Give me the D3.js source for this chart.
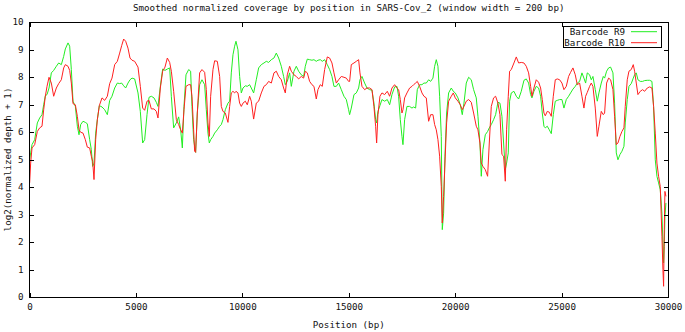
<!DOCTYPE html>
<html><head><meta charset="utf-8">
<script src="https://cdn.jsdelivr.net/npm/d3@7/dist/d3.min.js"></script>
<style>
html,body{margin:0;padding:0;background:#fff;}
text{font-family:"DejaVu Sans Mono",monospace;font-size:9.2px;fill:#111;}
</style></head>
<body>
<svg id="chart" width="685" height="332"></svg>
<script>
const title = "Smoothed normalized coverage by position in SARS-Cov_2 (window width = 200 bp)";
const xLabel = "Position (bp)";
const yLabel = "log2(normalized depth + 1)";
const seriesNames = ["Barcode R9", "Barcode R10"];
const xTicks = [0, 5000, 10000, 15000, 20000, 25000, 30000];
const yTicks = [0, 1, 2, 3, 4, 5, 6, 7, 8, 9, 10];

const positions = [
8,55,118,243,368,478,588,666,744,823,917,1026,1136,1261,1371,1496,1606,1684,1809,1888,
1966,2044,2154,2248,2326,2404,2514,2624,2717,2827,2905,2968,3031,3109,3187,3281,3407,3532,3657,3767,
3876,4002,4127,4237,4330,4424,4518,4628,4722,4816,4941,5098,5207,5317,5411,5521,5615,5724,5849,5959,
6037,6147,6257,6366,6476,6586,6664,6773,6899,7008,7102,7181,7259,7353,7478,
7571,7634,7712,7759,7806,7884,7994,8104,8229,8307,8386,8448,8511,8621,8699,8824,8934,9012,9090,9200,
9325,9404,9482,9560,9638,9701,9795,9873,9952,10030,10140,10233,10343,10421,10531,10656,10766,10891,11016,11126,
11236,11361,11486,11596,11706,11831,11940,12019,12113,12222,12301,12426,12536,12645,12770,12880,12958,13052,13162,13271,
13365,13475,13553,13663,13757,13867,13992,14102,14211,14305,14415,14524,14650,14775,14885,14994,
15041,15120,15245,15355,15464,15527,15621,15746,15856,15981,16091,16184,16263,16310,16372,16466,16560,16686,16811,16921,
17030,17155,17265,17343,17422,17500,17547,17625,17735,17860,17970,18048,18142,18220,18330,18440,18533,18643,18753,18847,
18956,19035,19113,19191,19270,19348,19395,19457,19520,19598,19692,19818,19912,20006,20131,20240,20334,20413,20522,20632,
20757,20867,20992,21070,21164,21227,21305,21415,21525,21603,21697,21806,21900,22010,22104,22198,22276,22355,22417,22495,
22558,22637,22762,22872,22981,23106,23232,23341,23451,23545,23608,23701,23811,23921,24015,24093,24171,24234,24328,24422,
24516,24610,24704,24798,24907,25017,25111,25221,25330,25424,25534,25643,25737,25847,25957,26050,26129,26207,26317,26395,
26473,26583,26677,26755,26865,26959,27021,27115,27209,27303,27413,27491,27570,27648,27742,27836,27930,27992,28086,28165,
28274,28368,28431,28509,28587,28697,28807,28901,29026,29136,29245,29323,29402,29480,29558,29636,29715,29762,29793,29825,
29856,29903];

const r9 = [
4.99,5.24,5.54,5.72,6.33,6.51,6.63,6.99,7.32,7.36,7.60,8.15,8.24,8.39,8.51,8.45,8.75,9.02,9.24,9.12,
8.27,7.12,6.93,6.21,5.90,6.27,6.39,6.35,6.30,5.72,5.36,4.75,4.87,5.96,6.45,6.96,6.91,6.81,6.63,7.15,
7.30,7.60,7.78,7.76,7.78,7.68,7.60,7.78,7.90,7.96,7.93,7.42,6.75,5.60,5.72,6.63,7.26,7.30,7.24,7.08,
6.93,7.66,8.29,8.24,8.29,8.33,7.30,6.15,6.33,6.55,6.08,5.42,6.93,8.08,8.27,
8.21,6.93,5.72,5.48,5.26,6.69,7.72,7.90,7.72,6.81,5.96,5.60,5.72,5.84,5.96,6.08,6.21,6.27,6.45,6.81,
7.05,7.12,8.15,8.81,9.12,9.30,8.99,8.02,7.42,7.60,7.68,7.66,7.72,7.60,7.42,7.90,8.33,8.45,8.51,8.57,
8.53,8.63,8.69,8.87,8.69,8.39,8.02,7.72,7.84,8.15,7.66,8.21,8.39,8.21,8.08,8.02,8.39,8.65,8.63,8.61,
8.63,8.57,8.61,8.63,8.57,8.63,8.45,8.27,8.02,7.66,7.66,7.78,7.54,7.30,7.18,6.81,
6.63,6.87,7.36,7.42,7.60,7.90,8.02,7.78,7.60,7.54,7.52,7.05,6.45,6.33,6.75,6.96,7.18,7.12,7.18,6.99,
7.36,7.64,7.66,7.30,6.45,5.84,5.54,6.45,6.93,6.93,6.87,6.91,6.87,7.54,7.72,7.72,7.78,7.78,7.90,7.84,
7.96,8.39,8.63,8.39,7.30,5.84,2.45,3.05,5.12,6.69,7.42,7.60,7.48,7.42,7.24,6.99,6.63,7.05,7.78,7.99,
7.90,7.54,7.24,6.57,5.60,4.39,5.36,5.90,6.02,6.15,6.27,6.45,6.63,7.08,7.05,6.57,5.60,4.63,4.87,5.24,
7.12,7.42,7.48,7.30,7.20,7.48,7.88,7.93,7.78,7.36,7.24,7.48,7.66,7.60,7.30,6.69,6.21,6.15,6.21,6.08,
5.94,6.63,7.12,7.15,7.18,7.18,6.87,7.18,7.30,7.42,7.56,7.66,7.78,7.84,8.15,7.96,7.78,8.15,8.08,7.90,
8.02,7.54,7.12,7.42,7.78,8.02,7.96,8.21,8.33,8.36,8.15,7.05,5.24,4.99,5.18,5.30,5.48,6.33,7.18,7.66,
7.76,7.96,8.08,8.15,7.90,7.84,7.84,7.87,7.88,7.88,7.84,6.93,4.99,4.39,4.15,3.90,3.05,1.96,1.24,1.84,
2.93,3.42];

const r10 = [
4.15,4.87,5.42,5.54,6.02,6.15,6.21,6.81,7.30,7.66,7.99,7.78,7.30,7.60,7.76,7.90,8.33,8.45,8.39,8.24,
7.78,7.03,6.99,6.57,6.08,5.99,5.96,5.72,5.45,5.42,5.12,4.93,4.27,5.72,6.45,6.96,7.24,7.15,7.30,7.76,
7.96,8.45,8.57,8.87,9.14,9.38,9.30,9.05,8.69,8.61,8.57,8.36,7.66,6.87,6.79,7.12,7.15,6.84,6.84,6.75,
6.51,7.60,8.21,8.36,8.69,8.53,8.21,7.48,6.45,6.27,6.08,5.96,6.81,7.66,7.72,
7.72,7.30,6.08,5.30,5.26,6.69,8.15,8.27,8.17,7.54,6.33,5.84,7.30,8.27,8.59,8.57,8.02,6.93,6.75,6.69,
6.35,6.93,7.42,7.48,7.42,7.48,7.42,7.05,6.93,7.05,7.12,6.99,7.30,7.12,6.47,7.05,7.12,7.42,7.66,7.72,
7.84,7.78,8.15,8.21,8.02,7.90,7.60,7.42,8.08,8.39,8.21,8.08,8.02,7.93,8.02,7.96,8.21,8.15,7.84,7.72,
7.66,7.20,7.54,7.72,7.66,8.27,8.73,8.69,8.51,8.15,7.78,7.90,8.02,7.99,7.96,7.84,
7.84,8.45,8.51,8.57,8.63,8.15,7.66,7.54,7.60,7.60,7.54,6.93,6.21,5.60,6.63,7.30,7.42,7.36,7.48,7.30,
7.60,7.72,7.60,7.54,7.18,6.69,6.81,7.24,7.42,7.60,7.66,7.72,7.78,7.84,7.66,7.42,7.30,7.24,6.39,6.63,
6.63,6.27,6.08,5.72,5.12,4.02,2.69,3.66,4.87,6.33,7.12,7.30,7.42,7.24,7.12,6.99,6.81,6.93,7.12,7.18,
7.08,6.69,6.21,6.08,5.60,4.87,4.75,4.63,4.39,5.60,6.93,7.24,7.30,7.05,6.63,5.18,5.12,4.21,6.08,7.30,
8.21,8.27,8.51,8.73,8.51,8.53,8.51,8.39,8.15,7.66,7.30,7.60,7.90,7.81,7.60,7.18,6.69,6.59,6.75,6.72,
6.57,7.30,7.90,7.93,7.90,7.78,7.54,7.66,8.02,8.17,8.33,8.08,7.72,7.78,7.30,6.87,7.30,7.44,7.66,7.78,
7.66,6.87,5.84,6.21,6.75,6.63,6.69,7.78,7.96,7.90,7.54,6.57,5.54,5.60,5.84,6.02,6.15,6.93,7.90,8.21,
8.27,8.45,8.21,7.78,7.36,7.48,7.54,7.48,7.60,7.64,7.60,6.93,5.96,4.87,4.39,4.02,2.21,0.99,0.39,2.45,
3.84,3.66];

const colors = ["#22ee22", "#ff2020"];

const svg = d3.select("#chart");
const L = 29.5, R = 668, T = 22, B = 297;
const x = d3.scaleLinear().domain([0, 30000]).range([L, R]);
const y = d3.scaleLinear().domain([0, 10]).range([B, T]);

// series
const series = [r9, r10];
const line = d3.line().x(d => x(d[0])).y(d => y(d[1]));
series.forEach((vals, i) => {
  const pts = positions.map((p, j) => [p, vals[j]]);
  svg.append("path").datum(pts)
    .attr("fill", "none").attr("stroke", colors[i]).attr("stroke-width", 1)
    .attr("d", line);
});

// axes
const gB = svg.append("g").attr("transform", `translate(0,${B})`)
  .call(d3.axisBottom(x).tickValues(xTicks).tickFormat(d3.format("d")).tickSizeInner(-4.5).tickSizeOuter(0).tickPadding(6.5));
const gL = svg.append("g").attr("transform", `translate(${L},0)`)
  .call(d3.axisLeft(y).tickValues(yTicks).tickSizeInner(-4.5).tickSizeOuter(0).tickPadding(6));
const gT = svg.append("g").attr("transform", `translate(0,${T})`)
  .call(d3.axisTop(x).tickValues(xTicks).tickFormat("").tickSizeInner(-4.5).tickSizeOuter(0));
const gR = svg.append("g").attr("transform", `translate(${R},0)`)
  .call(d3.axisRight(y).tickValues(yTicks).tickFormat("").tickSizeInner(-4.5).tickSizeOuter(0));
[gB, gL, gT, gR].forEach(g => {
  g.select(".domain").remove();
  g.selectAll("line").attr("stroke", "#000").attr("shape-rendering", "crispEdges");
  g.selectAll("text").style("font-family", '"DejaVu Sans Mono",monospace').style("font-size", "9.2px").attr("fill", "#111");
});

// frame
svg.append("rect").attr("x", L).attr("y", T).attr("width", R - L).attr("height", B - T)
  .attr("fill", "none").attr("stroke", "#000").attr("stroke-width", 1).attr("shape-rendering", "crispEdges");

// title & labels
svg.append("text").attr("x", (L + R) / 2).attr("y", 11).attr("text-anchor", "middle").text(title);
svg.append("text").attr("x", (L + R) / 2).attr("y", 328).attr("text-anchor", "middle").text(xLabel);
svg.append("text").attr("transform", `translate(11,${(T + B) / 2}) rotate(-90)`).attr("text-anchor", "middle").text(yLabel);

// legend
const leg = svg.append("g");
leg.append("rect").attr("x", 563.5).attr("y", 26.5).attr("width", 98).attr("height", 21)
  .attr("fill", "#fff").attr("stroke", "#000").attr("shape-rendering", "crispEdges");
seriesNames.forEach((n, i) => {
  const yy = 31.7 + i * 11;
  leg.append("text").attr("x", 625).attr("y", yy + 3.2).attr("text-anchor", "end").text(n);
  leg.append("line").attr("x1", 631).attr("x2", 657).attr("y1", yy).attr("y2", yy)
    .attr("stroke", colors[i]).attr("stroke-width", 1);
});
</script>
</body></html>
